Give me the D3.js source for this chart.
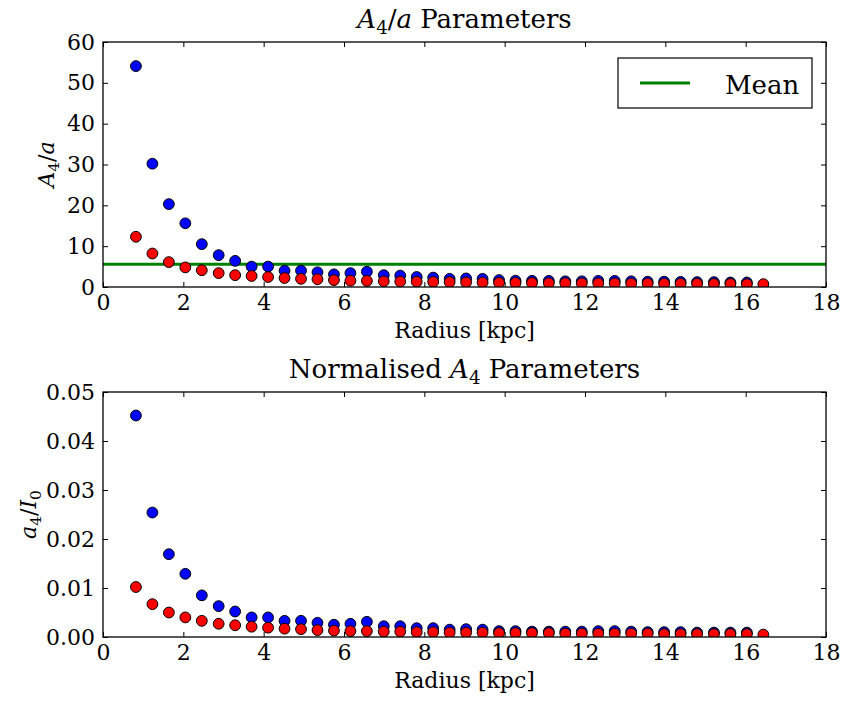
<!DOCTYPE html>
<html>
<head>
<meta charset="utf-8">
<script src="https://cdn.jsdelivr.net/npm/d3@7"></script>
<style>
  html, body { margin: 0; padding: 0; background: #fff; }
  svg text { font-family: "DejaVu Serif", "Liberation Serif", serif; fill: #000; }
</style>
</head>
<body>
<svg id="chart" width="843" height="702"></svg>
<script>
// Radii of the fitted ellipses [kpc]
const radius = [0.82, 1.23, 1.64, 2.05, 2.46, 2.88, 3.29, 3.70, 4.11, 4.52, 4.93, 5.34, 5.75,
  6.16, 6.57, 6.99, 7.40, 7.81, 8.22, 8.63, 9.04, 9.45, 9.86, 10.27, 10.68, 11.10, 11.51,
  11.92, 12.33, 12.74, 13.15, 13.56, 13.97, 14.38, 14.79, 15.21, 15.62, 16.03, 16.44];

// A4/a ratio, two series (blue has one fewer ring)
const ratioBlue = [54.1, 30.2, 20.3, 15.6, 10.5, 7.8, 6.4, 5.0, 5.0, 4.0, 4.0, 3.6, 3.1, 3.4,
  3.75, 2.9, 2.8, 2.45, 2.3, 2.0, 2.1, 2.0, 1.7, 1.55, 1.5, 1.5, 1.4, 1.4, 1.5, 1.5, 1.4, 1.3,
  1.3, 1.25, 1.2, 1.2, 1.1, 1.1];
const ratioRed = [12.3, 8.2, 6.1, 4.8, 4.1, 3.4, 2.9, 2.7, 2.45, 2.2, 2.0, 1.9, 1.7, 1.55, 1.5,
  1.4, 1.35, 1.3, 1.25, 1.2, 1.15, 1.1, 1.05, 1.0, 1.0, 0.95, 0.95, 0.9, 0.9, 0.9, 0.85, 0.85,
  0.8, 0.8, 0.8, 0.75, 0.75, 0.7, 0.7];
const ratioMean = 5.55;

// Normalised a4/I0
const normBlue = [0.0452, 0.0254, 0.0169, 0.0129, 0.0085, 0.0063, 0.0052, 0.0040, 0.0040,
  0.0033, 0.0033, 0.0029, 0.0025, 0.0027, 0.0031, 0.0022, 0.0022, 0.0018, 0.0018, 0.0015,
  0.0016, 0.0015, 0.0012, 0.0012, 0.0011, 0.0011, 0.0011, 0.0011, 0.0012, 0.0012, 0.0011,
  0.0010, 0.0010, 0.0010, 0.0009, 0.0009, 0.0009, 0.0009];
const normRed = [0.0102, 0.0067, 0.0050, 0.0040, 0.0033, 0.0027, 0.0024, 0.0021, 0.0019,
  0.0017, 0.0016, 0.0014, 0.0013, 0.0012, 0.0012, 0.0011, 0.0011, 0.0010, 0.0010, 0.0009,
  0.0009, 0.0009, 0.0008, 0.0008, 0.0008, 0.0008, 0.0007, 0.0007, 0.0007, 0.0007, 0.0007,
  0.0007, 0.0006, 0.0006, 0.0006, 0.0006, 0.0006, 0.0006, 0.0005];

// Tick values
const xTicks = [0, 2, 4, 6, 8, 10, 12, 14, 16, 18];
const ratioTicks = [0, 10, 20, 30, 40, 50, 60];
const normTicks = [0, 0.01, 0.02, 0.03, 0.04, 0.05];

const svg = d3.select("#chart");
const plotLeft = 103, plotRight = 826;
const serif = '"DejaVu Serif", "Liberation Serif", serif';
const tickFont = 22, labelFont = 22, titleFont = 26;

function mathText(sel, parts, size) {
  let wasSub = false;
  parts.forEach(p => {
    const ts = sel.append("tspan").text(p.t);
    if (p.it) ts.attr("font-style", "italic");
    if (p.sub) {
      ts.attr("font-size", size * 0.7).attr("dy", size * 0.22);
    } else if (wasSub) {
      ts.attr("dy", -size * 0.22);
    }
    wasSub = !!p.sub;
  });
}

function panel(cfg) {
  const x = d3.scaleLinear().domain([0, 18]).range([plotLeft, plotRight]);
  const y = d3.scaleLinear().domain(cfg.yDomain).range([cfg.bottom, cfg.top]);
  const g = svg.append("g");

  // axes with inward ticks on all four sides
  const styleAxis = a => {
    a.attr("font-family", serif);
    a.select(".domain").remove();
    a.selectAll(".tick line").attr("stroke", "#000").attr("stroke-width", 1);
    a.selectAll(".tick text").attr("font-size", tickFont).style("font-family", serif);
  };
  g.append("g").attr("transform", `translate(0,${cfg.bottom})`)
    .call(d3.axisBottom(x).tickValues(xTicks).tickSize(-5).tickPadding(7).tickFormat(d3.format("d")))
    .call(styleAxis);
  g.append("g").attr("transform", `translate(0,${cfg.top})`)
    .call(d3.axisTop(x).tickValues(xTicks).tickSize(-5).tickFormat(""))
    .call(styleAxis);
  g.append("g").attr("transform", `translate(${plotLeft},0)`)
    .call(d3.axisLeft(y).tickValues(cfg.yTicks).tickSize(-5).tickPadding(8).tickFormat(cfg.yFormat))
    .call(styleAxis);
  g.append("g").attr("transform", `translate(${plotRight},0)`)
    .call(d3.axisRight(y).tickValues(cfg.yTicks).tickSize(-5).tickFormat(""))
    .call(styleAxis);

  const clipId = "clip" + cfg.top;
  svg.append("clipPath").attr("id", clipId).append("rect")
    .attr("x", plotLeft).attr("y", cfg.top)
    .attr("width", plotRight - plotLeft).attr("height", cfg.bottom - cfg.top);

  const plot = g.append("g").attr("clip-path", `url(#${clipId})`);

  if (cfg.mean !== undefined) {
    plot.append("line")
      .attr("x1", plotLeft).attr("x2", plotRight)
      .attr("y1", y(cfg.mean)).attr("y2", y(cfg.mean))
      .attr("stroke", "#008000").attr("stroke-width", 3);
  }

  const drawSeries = (vals, color) => {
    plot.append("g").selectAll("circle")
      .data(vals)
      .join("circle")
      .attr("cx", (d, i) => x(radius[i]))
      .attr("cy", d => y(d))
      .attr("r", 5.4)
      .attr("fill", color)
      .attr("stroke", "#000")
      .attr("stroke-width", 1);
  };
  drawSeries(cfg.blue, "#0000ff");
  drawSeries(cfg.red, "#ff0000");

  // frame
  g.append("rect")
    .attr("x", plotLeft).attr("y", cfg.top)
    .attr("width", plotRight - plotLeft).attr("height", cfg.bottom - cfg.top)
    .attr("fill", "none").attr("stroke", "#000").attr("stroke-width", 1.3);

  // x label
  g.append("text")
    .attr("x", (plotLeft + plotRight) / 2).attr("y", cfg.bottom + 51)
    .attr("text-anchor", "middle").attr("font-size", labelFont)
    .text("Radius [kpc]");

  // title
  mathText(g.append("text")
    .attr("x", (plotLeft + plotRight) / 2).attr("y", cfg.top - 14)
    .attr("text-anchor", "middle").attr("font-size", titleFont), cfg.title, titleFont);

  // y label
  const cy = (cfg.top + cfg.bottom) / 2;
  mathText(g.append("text")
    .attr("transform", `translate(${cfg.yLabelX},${cy}) rotate(-90)`)
    .attr("text-anchor", "middle").attr("font-size", labelFont), cfg.yLabel, labelFont);

  return { x, y, g };
}

panel({
  top: 42, bottom: 287,
  yDomain: [0, 60], yTicks: ratioTicks, yFormat: d3.format("d"),
  blue: ratioBlue, red: ratioRed, mean: ratioMean,
  title: [{ t: "A", it: true }, { t: "4", sub: true }, { t: "/" }, { t: "a", it: true }, { t: " Parameters" }],
  yLabel: [{ t: "A", it: true }, { t: "4", sub: true }, { t: "/" }, { t: "a", it: true }],
  yLabelX: 54
});

panel({
  top: 392, bottom: 637,
  yDomain: [0, 0.05], yTicks: normTicks, yFormat: d3.format(".2f"),
  blue: normBlue, red: normRed,
  title: [{ t: "Normalised " }, { t: "A", it: true }, { t: "4", sub: true }, { t: " Parameters" }],
  yLabel: [{ t: "a", it: true }, { t: "4", sub: true }, { t: "/" }, { t: "I", it: true }, { t: "0", sub: true }],
  yLabelX: 36
});

// legend for the mean line
const lg = svg.append("g");
lg.append("rect")
  .attr("x", 618).attr("y", 58).attr("width", 194).attr("height", 50)
  .attr("fill", "#fff").attr("stroke", "#000").attr("stroke-width", 1.2);
lg.append("line")
  .attr("x1", 640).attr("x2", 690).attr("y1", 83).attr("y2", 83)
  .attr("stroke", "#008000").attr("stroke-width", 3);
lg.append("text")
  .attr("x", 725).attr("y", 94).attr("font-size", 26)
  .text("Mean");
</script>
</body>
</html>
